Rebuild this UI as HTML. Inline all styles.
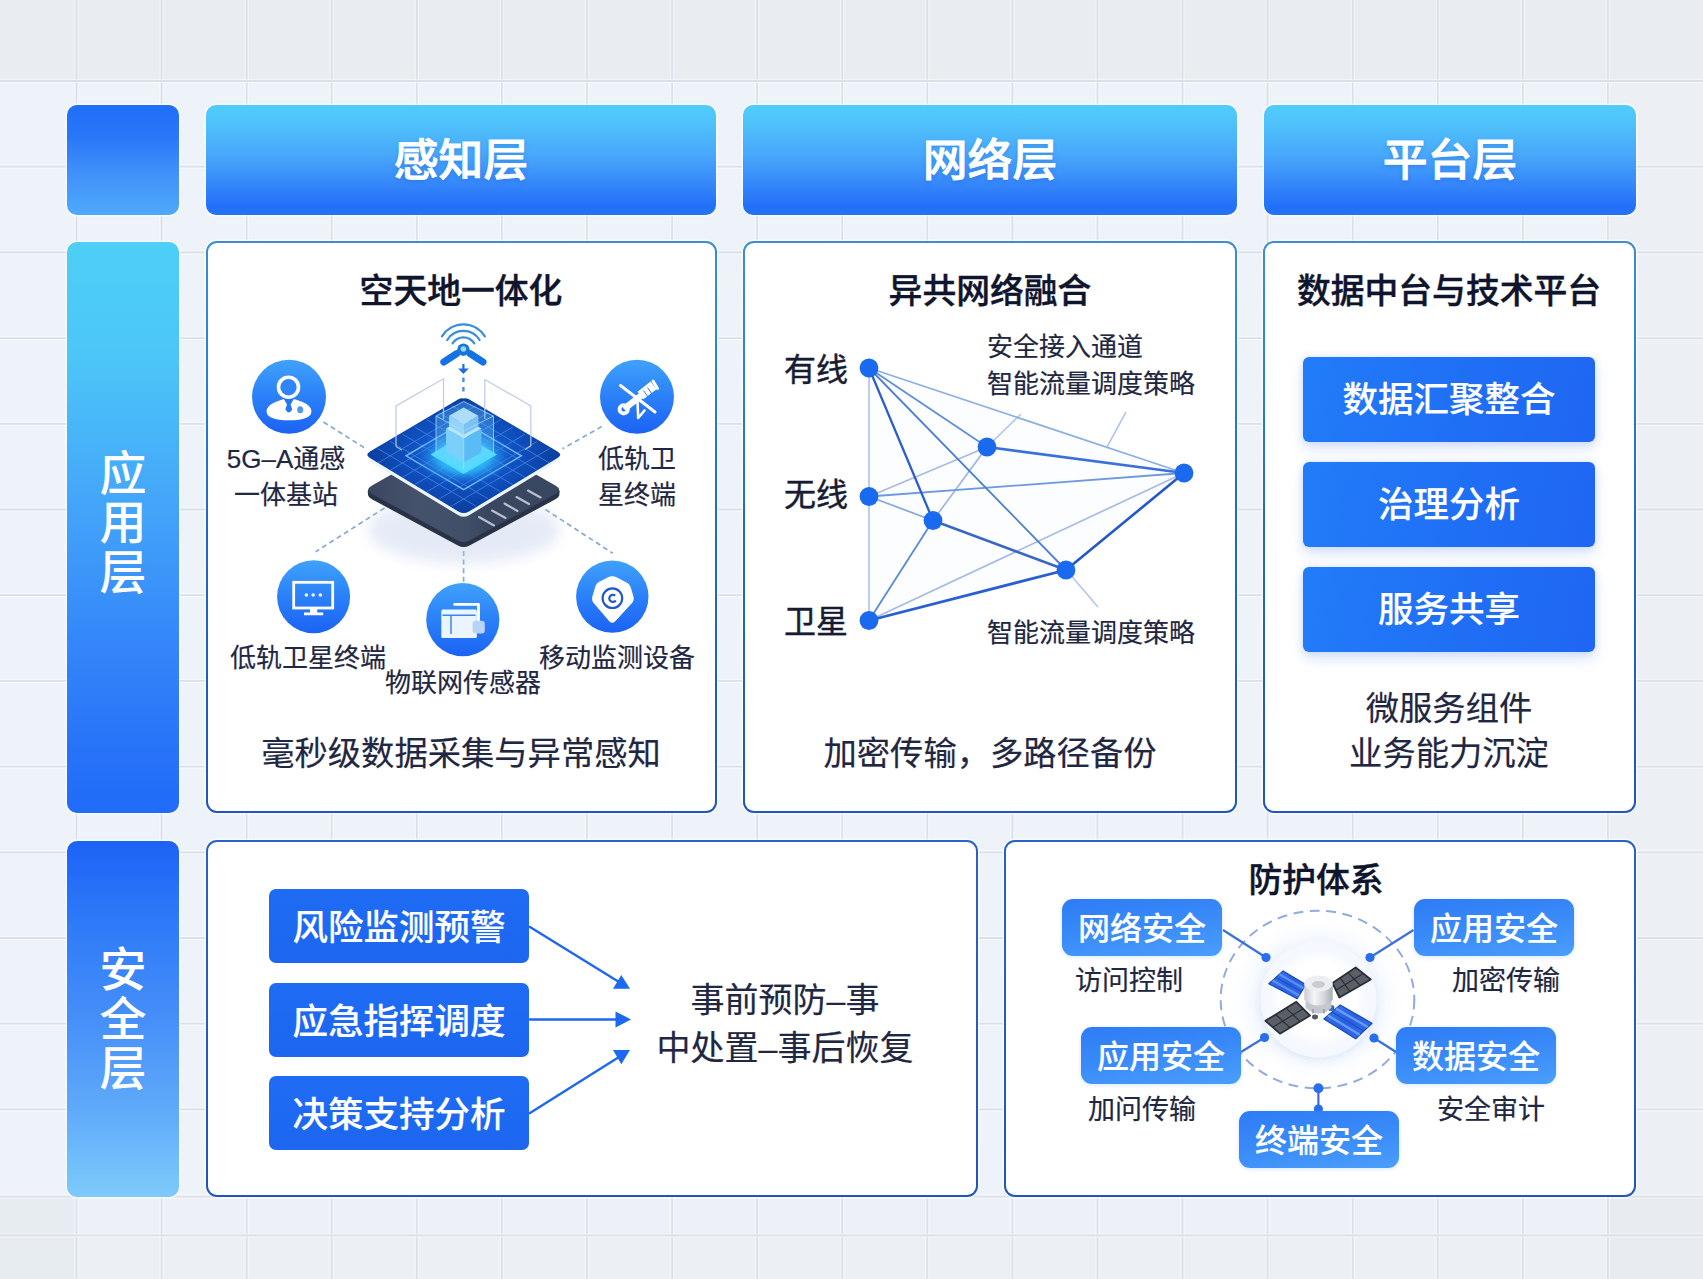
<!DOCTYPE html>
<html lang="zh-CN">
<head>
<meta charset="utf-8">
<title>架构图</title>
<style>
*{box-sizing:border-box;margin:0;padding:0}
html,body{width:1703px;height:1279px;overflow:hidden}
body{font-family:"Liberation Sans","Noto Sans CJK SC",sans-serif;color:#1c2340;background:#edf2f8}
#stage{position:relative;width:1703px;height:1279px;overflow:hidden;background:#eef3fa}
#grid{position:absolute;left:0;top:0;width:1703px;height:1279px}
.abs{position:absolute}
.gw{stroke:#fff;stroke-opacity:.4;stroke-width:4.5;fill:none}
.gg{stroke:#dae0e8;stroke-width:1.8;fill:none}
.hdr{position:absolute;top:105px;height:110px;border-radius:10px;
 background:linear-gradient(180deg,#50cbfb 0%,#4fc4fa 14%,#48a8fa 45%,#3687fa 72%,#2170f8 92%,#2672f2 100%);
 box-shadow:0 0 0 1.5px rgba(255,255,255,.55);
 color:#fff;font-weight:500;-webkit-text-stroke:.8px #fff;font-size:44.8px;line-height:111px;text-align:center;letter-spacing:0px;
 text-shadow:0 2px 4px rgba(20,80,200,.35)}
.side{position:absolute;left:67px;width:112px;border-radius:10px;box-shadow:0 0 0 1.5px rgba(255,255,255,.55);color:#fff}
.side span{position:absolute;left:0;width:112px;text-align:center;font-size:47px;line-height:48px;font-weight:500}
.panel{position:absolute;border-radius:11px;border:2.8px solid transparent;
 background:linear-gradient(#fff,#fff) padding-box,linear-gradient(180deg,#3f8ccf 0%,#2b8ad8 12%,#2068cc 50%,#1f55c0 100%) border-box;
 box-shadow:0 0 0 1.5px rgba(255,255,255,.6)}
.panel.lo{background:linear-gradient(#fff,#fff) padding-box,linear-gradient(180deg,#2a62c6 0%,#1f55c0 100%) border-box}
.ptitle{position:absolute;font-weight:500;-webkit-text-stroke:.4px #10152e;font-size:33.8px;line-height:40px;text-align:center;color:#10152e;white-space:nowrap}
.ptext{position:absolute;font-weight:400;-webkit-text-stroke:.2px #1f2742;font-size:33.3px;line-height:44px;text-align:center;color:#1f2742;white-space:nowrap}
.lbl{position:absolute;font-size:26px;line-height:34px;-webkit-text-stroke:.2px #1f2742;color:#1f2742;white-space:nowrap;text-align:center}
.btn{position:absolute;border-radius:6px;color:#fff;font-weight:500;-webkit-text-stroke:.15px #fff;text-align:center;white-space:nowrap}
.b3{left:1303px;width:292px;height:85px;line-height:87px;font-size:35.5px;border-radius:6px;
 background:linear-gradient(100deg,#227cf8 0%,#1f6ff5 55%,#1f66f2 100%);box-shadow:0 7px 14px rgba(80,130,230,.22),0 0 7px rgba(110,160,240,.22)}
.b4{left:269px;width:260px;height:74px;line-height:79px;font-size:35.5px;border-radius:7px;
 background:linear-gradient(180deg,#1f6cf4 0%,#1c66f0 100%)}
.nlbl{position:absolute;font-size:32px;line-height:40px;font-weight:400;-webkit-text-stroke:.45px #171c33;color:#171c33;white-space:nowrap}
.b5{width:160px;height:57px;line-height:60px;font-size:32px;border-radius:11px;
 background:linear-gradient(172deg,#2d7cf6 0%,#3a8bf8 50%,#4a9efa 100%);box-shadow:0 1px 4px rgba(90,150,240,.25)}
.l5{width:200px;font-size:27px;line-height:34px}
</style>
</head>
<body>
<div id="stage">
<svg id="grid" viewBox="0 0 1703 1279">
 <g id="gl">
<rect x="0" y="0" width="1703" height="1279" fill="#eef3fa"/>
<rect x="0" y="0" width="1703" height="81" fill="#e9edf1"/>
<rect x="1608" y="81" width="95" height="1116" fill="#ecf0f5"/>
<rect x="0" y="1197" width="1703" height="38.500" fill="#edf1f7"/>
<rect x="0" y="1235.500" width="1703" height="44" fill="#ecf0f4"/>
<rect x="1608" y="1197" width="95" height="82" fill="#e8ecf0"/>
<rect x="0" y="1197" width="76.500" height="82" fill="#e7ecf1"/>
<path d="M76.5 0L76.5 1279" class="gw"/>
<path d="M76.5 0L76.5 1279" class="gg"/>
<path d="M161.6 0L161.6 1279" class="gw"/>
<path d="M161.6 0L161.6 1279" class="gg"/>
<path d="M246.7 0L246.7 1279" class="gw"/>
<path d="M246.7 0L246.7 1279" class="gg"/>
<path d="M331.7 0L331.7 1279" class="gw"/>
<path d="M331.7 0L331.7 1279" class="gg"/>
<path d="M416.8 0L416.8 1279" class="gw"/>
<path d="M416.8 0L416.8 1279" class="gg"/>
<path d="M501.9 0L501.9 1279" class="gw"/>
<path d="M501.9 0L501.9 1279" class="gg"/>
<path d="M587.0 0L587.0 1279" class="gw"/>
<path d="M587.0 0L587.0 1279" class="gg"/>
<path d="M672.1 0L672.1 1279" class="gw"/>
<path d="M672.1 0L672.1 1279" class="gg"/>
<path d="M757.1 0L757.1 1279" class="gw"/>
<path d="M757.1 0L757.1 1279" class="gg"/>
<path d="M842.2 0L842.2 1279" class="gw"/>
<path d="M842.2 0L842.2 1279" class="gg"/>
<path d="M927.3 0L927.3 1279" class="gw"/>
<path d="M927.3 0L927.3 1279" class="gg"/>
<path d="M1012.4 0L1012.4 1279" class="gw"/>
<path d="M1012.4 0L1012.4 1279" class="gg"/>
<path d="M1097.5 0L1097.5 1279" class="gw"/>
<path d="M1097.5 0L1097.5 1279" class="gg"/>
<path d="M1182.5 0L1182.5 1279" class="gw"/>
<path d="M1182.5 0L1182.5 1279" class="gg"/>
<path d="M1267.6 0L1267.6 1279" class="gw"/>
<path d="M1267.6 0L1267.6 1279" class="gg"/>
<path d="M1352.7 0L1352.7 1279" class="gw"/>
<path d="M1352.7 0L1352.7 1279" class="gg"/>
<path d="M1437.8 0L1437.8 1279" class="gw"/>
<path d="M1437.8 0L1437.8 1279" class="gg"/>
<path d="M1522.9 0L1522.9 1279" class="gw"/>
<path d="M1522.9 0L1522.9 1279" class="gg"/>
<path d="M1607.9 0L1607.9 1279" class="gw"/>
<path d="M1607.9 0L1607.9 1279" class="gg"/>
<path d="M0 81L1703 81" class="gw"/>
<path d="M0 81L1703 81" class="gg"/>
<path d="M0 166.7L1703 166.7" class="gw"/>
<path d="M0 166.7L1703 166.7" class="gg"/>
<path d="M0 252.4L1703 252.4" class="gw"/>
<path d="M0 252.4L1703 252.4" class="gg"/>
<path d="M0 338.1L1703 338.1" class="gw"/>
<path d="M0 338.1L1703 338.1" class="gg"/>
<path d="M0 423.8L1703 423.8" class="gw"/>
<path d="M0 423.8L1703 423.8" class="gg"/>
<path d="M0 509.5L1703 509.5" class="gw"/>
<path d="M0 509.5L1703 509.5" class="gg"/>
<path d="M0 595.2L1703 595.2" class="gw"/>
<path d="M0 595.2L1703 595.2" class="gg"/>
<path d="M0 680.9L1703 680.9" class="gw"/>
<path d="M0 680.9L1703 680.9" class="gg"/>
<path d="M0 766.6L1703 766.6" class="gw"/>
<path d="M0 766.6L1703 766.6" class="gg"/>
<path d="M0 852.3L1703 852.3" class="gw"/>
<path d="M0 852.3L1703 852.3" class="gg"/>
<path d="M0 938L1703 938" class="gw"/>
<path d="M0 938L1703 938" class="gg"/>
<path d="M0 1023.7L1703 1023.7" class="gw"/>
<path d="M0 1023.7L1703 1023.7" class="gg"/>
<path d="M0 1109.4L1703 1109.4" class="gw"/>
<path d="M0 1109.4L1703 1109.4" class="gg"/>
<path d="M0 1196.6L1703 1196.6" class="gw"/>
<path d="M0 1196.6L1703 1196.6" class="gg"/>
<path d="M0 1235.4L1703 1235.4" class="gw"/>
<path d="M0 1235.4L1703 1235.4" class="gg"/>
</g>
</svg>

<!-- header row -->
<div class="side" style="top:105px;height:110px;background:linear-gradient(180deg,#1f6ef8 0%,#2a78f9 30%,#3f90fa 60%,#4fa9fa 100%)"></div>
<div class="hdr" style="left:206px;width:510px">感知层</div>
<div class="hdr" style="left:743px;width:494px">网络层</div>
<div class="hdr" style="left:1264px;width:372px">平台层</div>

<!-- side columns -->
<div class="side" style="top:242px;height:571px;background:linear-gradient(180deg,#4dcff6 0%,#4cc6f8 20%,#44a6f9 45%,#3689f9 68%,#2874f8 88%,#206bf8 100%)">
 <span style="top:208px">应</span><span style="top:257px">用</span><span style="top:307px">层</span>
</div>
<div class="side" style="top:841px;height:356px;background:linear-gradient(180deg,#1d62f6 0%,#2d7af8 22%,#468ff9 50%,#5fa9fa 75%,#7ccbfb 100%)">
 <span style="top:105px">安</span><span style="top:155px">全</span><span style="top:204px">层</span>
</div>

<!-- panels -->
<div class="panel" id="p1" style="left:206px;top:241px;width:511px;height:572px"></div>
<div class="panel" id="p2" style="left:743px;top:241px;width:494px;height:572px"></div>
<div class="panel" id="p3" style="left:1263px;top:241px;width:373px;height:572px"></div>
<div class="panel lo" id="p4" style="left:206px;top:840px;width:772px;height:357px"></div>
<div class="panel lo" id="p5" style="left:1004px;top:840px;width:632px;height:357px"></div>

<!-- titles -->
<div class="ptitle" style="left:261px;top:271px;width:400px">空天地一体化</div>
<div class="ptitle" style="left:790px;top:271px;width:400px">异共网络融合</div>
<div class="ptitle" style="left:1249px;top:271px;width:400px">数据中台与技术平台</div>
<div class="ptitle" style="left:1116px;top:860px;width:400px">防护体系</div>

<!-- bottom texts -->
<div class="ptext" style="left:211px;top:732px;width:500px">毫秒级数据采集与异常感知</div>
<div class="ptext" style="left:740px;top:732px;width:500px">加密传输，多路径备份</div>
<div class="ptext" style="left:1249px;top:687px;width:400px">微服务组件</div>
<div class="ptext" style="left:1249px;top:732px;width:400px">业务能力沉淀</div>

<!--SECTION:P1-->
<svg class="abs" style="left:215px;top:315px" width="495" height="350" viewBox="215 315 495 350">
 <defs>
  <linearGradient id="ic" x1="0" x2="0" y1="0" y2="1"><stop offset="0" stop-color="#3fa2fb"/><stop offset=".5" stop-color="#2b80f8"/><stop offset="1" stop-color="#1b63f4"/></linearGradient>
  <radialGradient id="chip" cx="50%" cy="48%" r="55%"><stop offset="0" stop-color="#1f6ee4"/><stop offset=".5" stop-color="#0f50c0"/><stop offset="1" stop-color="#0a3a98"/></radialGradient>
  <radialGradient id="glow" cx="50%" cy="50%" r="50%"><stop offset="0" stop-color="#5fe0ff"/><stop offset=".55" stop-color="#2bb4f6" stop-opacity=".85"/><stop offset="1" stop-color="#1a6fe0" stop-opacity="0"/></radialGradient>
  <linearGradient id="slabTop" x1="0" x2="1" y1="0" y2="0"><stop offset="0" stop-color="#3b4761"/><stop offset=".25" stop-color="#45526c"/><stop offset=".52" stop-color="#414e68"/><stop offset=".62" stop-color="#394660"/><stop offset="1" stop-color="#3a4761"/></linearGradient>
  <linearGradient id="slabL" x1="0" x2="1" y1="0" y2="0"><stop offset="0" stop-color="#2a354b"/><stop offset="1" stop-color="#36445f"/></linearGradient>
  <linearGradient id="slabR" x1="0" x2="1" y1="0" y2="0"><stop offset="0" stop-color="#3c4b66"/><stop offset="1" stop-color="#46556f"/></linearGradient>
  <linearGradient id="cubeF" x1="0" x2="0" y1="0" y2="1"><stop offset="0" stop-color="#a9dcfb"/><stop offset="1" stop-color="#56c4f8"/></linearGradient>
  <filter id="b6" x="-30%" y="-30%" width="160%" height="160%"><feGaussianBlur stdDeviation="7"/></filter>
  <filter id="b2" x="-30%" y="-30%" width="160%" height="160%"><feGaussianBlur stdDeviation="2.2"/></filter>
  <clipPath id="chipclip"><path d="M463.7 398.5Q466 397.5 469 399.2L557.5 451.5Q563 454.8 557.5 458L469 511.5Q463.7 514.5 458.4 511.5L370 458Q364.5 454.8 370 451.5L458.4 399.2Q461.4 397.5 463.7 398.5Z"/></clipPath>
 </defs>
 <!-- dashed connectors -->
 <g stroke="#86a9d8" stroke-width="1.7" stroke-dasharray="5 3.6" fill="none">
  <path d="M323.5 422L366 448.8M601.8 426.6L562.5 448.8M384.5 508L315.7 551.7M545.5 509.5L612.8 553.3M463.6 551L463.6 582"/>
 </g>
 <!-- soft shadow -->
 <ellipse cx="464" cy="530" rx="96" ry="34" fill="#bccbe8" opacity=".38" filter="url(#b6)"/>
 <!-- bottom slab -->
 <path d="M368 493Q366.500 490 372 487L463.700 435L555.400 487Q560.800 490 559.400 493L559.400 494.500Q559.400 497 555 499.500L469.500 545.500Q463.700 548.600 457.900 545.500L372.400 499.500Q368 497 368 494.500Z" fill="#293246"/>
 <path d="M368.600 490.500Q367.500 488 372 485.400L463.700 433.500L555.400 485.400Q559.900 488 558.800 490.500Q558.500 492 555 494.200L469.500 540.500Q463.700 543.600 457.900 540.500L372.400 494.200Q369 492 368.600 490.500Z" fill="url(#slabTop)"/>
 <g stroke="#c5ccda" stroke-width="2.1" stroke-linecap="round" opacity=".9">
  <path d="M479 517L494 525.5M492 510.5L505.5 518M504.5 503.5L517.5 511M516.5 497L529 504M528 490.5L540.5 497.5"/>
 </g>
 <!-- white rim under chip -->
 <path d="M463.7 402.300Q466 401.300 469 403L557.5 455.300Q563 458.600 557.5 461.800L469 515.300Q463.7 518.300 458.4 515.300L370 461.800Q364.5 458.600 370 455.300L458.4 403Q461.4 401.300 463.7 402.300Z" fill="#eef4fc"/>
 <!-- chip -->
 <path d="M463.7 398.5Q466 397.5 469 399.2L557.5 451.5Q563 454.8 557.5 458L469 511.5Q463.7 514.5 458.4 511.5L370 458Q364.5 454.8 370 451.5L458.4 399.2Q461.4 397.5 463.7 398.5Z" fill="url(#chip)"/>
 <g clip-path="url(#chipclip)">
  <g stroke="#5aa2f2" stroke-width="1" opacity=".55" fill="none">
   <path d="M475.9 405.5L377.9 463.0M488.2 412.7L390.2 470.2M500.4 419.9L402.4 477.4M512.7 427.1L414.7 484.6M525.0 434.2L427.0 491.7M537.2 441.4L439.2 498.9M549.5 448.6L451.5 506.1"/>
   <path d="M451.4 405.5L549.5 463.0M439.2 412.7L537.2 470.2M426.9 419.9L525.0 477.4M414.7 427.1L512.7 484.6M402.4 434.2L500.4 491.7M390.2 441.4L488.2 498.9M377.9 448.6L475.9 506.1"/>
  </g>
  <path d="M463.7 422.0L521.3 455.8L463.7 489.6L406.1 455.8Z" fill="none" stroke="#86c9ff" stroke-width="1.5" opacity=".85"/>
  <ellipse cx="463.7" cy="457" rx="48" ry="28" fill="url(#glow)"/>
 </g>
 <!-- big outline box -->
 <g stroke="#b9c8e6" stroke-width="1.3" fill="none" opacity=".9">
  <path d="M396 446.500L396 406L443.500 378.800L443.500 419M530.800 446L530.800 406L484.800 379.500L484.800 419"/>
  <path d="M396 446.500L402 450M530.800 446L525 449.500"/>
 </g>
 <!-- tower -->
 <path d="M463.7 474L497 454.500L463.7 435L430.400 454.500Z" fill="#55dcff" opacity=".95"/>
 <path d="M446 428.500L446 452.500L463.7 462.500L463.7 438.500Z" fill="#7fd0fa"/>
 <path d="M481.400 428.500L481.400 452.500L463.7 462.500L463.7 438.500Z" fill="#4fb4f4"/>
 <path d="M446 428.500L463.7 418.500L481.400 428.500L463.7 438.500Z" fill="#d7efff"/>
 <path d="M449 415.800L449 426.500L463.7 434.800L463.7 424Z" fill="#a7d4f6"/>
 <path d="M478.400 415.800L478.400 426.500L463.7 434.800L463.7 424Z" fill="#7fbcee"/>
 <path d="M449 415.800L463.7 407.500L478.400 415.800L463.7 424Z" fill="#c9e2f8"/>
 <!-- glass box -->
 <path d="M436 453L436 416L463.7 401.500L493.500 416L493.500 453L463.7 469Z" fill="#6fd0ff" opacity=".3"/>
 <path d="M436 453L436 416L463.7 401.500L493.500 416L493.500 453M436 416L463.7 431L493.500 416M463.7 431L463.7 469" fill="none" stroke="#a9e2ff" stroke-width="1" opacity=".75"/>
 <!-- satellite top icon -->
 <g>
  <g fill="none" stroke="#3a8edc" stroke-width="2.2" stroke-linecap="round">
   <path d="M452.500 343.400A12.800 12.800 0 0 1 474.300 343.400"/>
   <path d="M447.200 340A19 19 0 0 1 479.600 340"/>
   <path d="M441.900 336.300A25.300 25.300 0 0 1 484.900 336.300"/>
  </g>
  <path d="M456.500 353.800L443.800 362M470.300 353.800L483 362" stroke="#1373e6" stroke-width="7" stroke-linecap="round"/>
  <circle cx="463.400" cy="349.700" r="6.200" fill="#1578d6"/>
  <circle cx="463.400" cy="349" r="2.800" fill="#9bd6f6"/>
  <path d="M463.400 364L463.400 369" stroke="#1f6ed8" stroke-width="2.200"/>
  <path d="M458 368.400L468.800 368.400L463.400 374Z" fill="#1f6ed8"/>
  <path d="M463.400 377.500L463.400 394" stroke="#4f8edc" stroke-width="2.400" stroke-dasharray="4.500 5"/>
 </g>
 <!-- icon circles -->
 <circle cx="289" cy="396.800" r="37" fill="url(#ic)"/>
 <circle cx="637" cy="396.800" r="37" fill="url(#ic)"/>
 <circle cx="313.600" cy="596.800" r="36.500" fill="url(#ic)"/>
 <circle cx="462.800" cy="619.600" r="36.600" fill="url(#ic)"/>
 <circle cx="612.300" cy="596.600" r="36.200" fill="url(#ic)"/>
 <!-- person -->
 <g>
  <path d="M266.600 411.500Q266.600 405.500 276 401.800L283 399.200L294.800 399.200L302 401.800Q311.400 405.500 311.400 411.500Q311.400 420.300 289 420.300Q266.600 420.300 266.600 411.500Z" fill="#fff"/>
  <path d="M283.600 398.600L294 398.600L290.600 404.600L292.200 409.600Q288.800 415.200 285.400 409.600L287 404.600Z" fill="#2377f7"/>
  <circle cx="288.500" cy="387.200" r="10" fill="#2f86f8" stroke="#fff" stroke-width="3.600"/>
  <ellipse cx="300.200" cy="409.800" rx="3" ry="3.500" fill="#4f95f8"/>
 </g>
 <!-- telescope -->
 <g stroke="#fff" fill="none" stroke-linecap="round">
  <path d="M620.500 385.500L655 412" stroke-width="3"/>
  <path d="M637.500 401L638.200 418L644.500 410.500" stroke-width="2.600" stroke-linejoin="round"/>
  <path d="M626.500 407L640 396.500" stroke-width="6.600"/>
  <path d="M640.500 395.500L653.500 385.400" stroke-width="9.600" stroke-linecap="butt"/>
  <path d="M653 381L657.500 388.500" stroke-width="3"/>
  <circle cx="623.700" cy="409.300" r="4.200" stroke-width="3.800"/>
 </g>
 <path d="M643.500 390.500L648 397M647.500 387.500L652 394" stroke="#2b7df7" stroke-width="1"/>
 <!-- monitor -->
 <g>
  <rect x="293.700" y="582.300" width="39" height="25.700" fill="none" stroke="#fff" stroke-width="2.800"/>
  <path d="M310 609L317.200 609L317.200 612.400L323.200 612.400L323.200 615.300L304 615.300L304 612.400L310 612.400Z" fill="#fff"/>
  <circle cx="306.400" cy="595" r="1.800" fill="#e8f3ff"/><circle cx="313.200" cy="595" r="1.800" fill="#e8f3ff"/><circle cx="320.400" cy="595" r="1.800" fill="#e8f3ff"/>
 </g>
 <!-- window -->
 <g>
  <path d="M454.600 604.400L478.500 604.400L478.500 621" fill="none" stroke="#fff" stroke-width="2.800" stroke-linecap="round" stroke-linejoin="round"/>
  <rect x="441.300" y="609.500" width="35.600" height="28.500" rx="1.500" fill="#eaf5ff"/>
  <path d="M442.500 615.200L475.500 615.200M451 616L451 634" stroke="#3b86f0" stroke-width="1.500" fill="none"/>
  <rect x="472.600" y="620.800" width="12.200" height="12.600" rx="3" fill="#b7d3f8"/>
 </g>
 <!-- pin -->
 <g>
  <path d="M612 576.300Q614 576 617 577.500L627.500 583Q630 584.500 630.800 587.500L633.600 597Q634.200 600 632.500 602.500L615 621.500Q612.300 624 609.500 621.500L593.200 602.500Q591.500 600 592.200 597L595.500 586Q596.300 583.500 598.800 582L607.500 577.500Q610 576.300 612 576.300Z" fill="#fff"/>
  <circle cx="612.400" cy="598.200" r="9.800" fill="none" stroke="#1f58cc" stroke-width="2.200"/>
  <path d="M615.200 595.600A3.600 3.600 0 1 0 615.800 600.500" fill="none" stroke="#1f58cc" stroke-width="2.200"/>
 </g>
</svg>
<div class="lbl" style="left:186px;top:442px;width:200px">5G–A通感</div>
<div class="lbl" style="left:186px;top:478px;width:200px">一体基站</div>
<div class="lbl" style="left:537px;top:442px;width:200px">低轨卫</div>
<div class="lbl" style="left:537px;top:478px;width:200px">星终端</div>
<div class="lbl" style="left:208px;top:641px;width:200px">低轨卫星终端</div>
<div class="lbl" style="left:363px;top:666px;width:200px">物联网传感器</div>
<div class="lbl" style="left:517px;top:641px;width:200px">移动监测设备</div>
<!--SECTION:P2-->
<svg class="abs" style="left:850px;top:340px" width="360" height="300" viewBox="850 340 360 300">
<polygon points="869,368 1184,473 1066,570 869,620.5" fill="#eaf3fe" fill-opacity=".2"/>
<path d="M1021 414L990 444M1126 412L1107 447M1068 572L1098 607" stroke="#b4c6ea" stroke-width="1.6" fill="none"/>
<line x1="869" y1="368" x2="869" y2="620.5" stroke="#a9c2ec" stroke-width="1.6"/>
<line x1="869" y1="368" x2="1184" y2="473" stroke="#8eaee6" stroke-width="1.7"/>
<line x1="869" y1="496.5" x2="987" y2="447" stroke="#a8bbe4" stroke-width="1.7"/>
<line x1="869" y1="620.5" x2="1184" y2="473" stroke="#a8bbe4" stroke-width="1.7"/>
<line x1="933" y1="520.5" x2="987" y2="447" stroke="#9fb5e2" stroke-width="1.7"/>
<line x1="869" y1="496.5" x2="933" y2="520.5" stroke="#8aa8dc" stroke-width="1.8"/>
<line x1="869" y1="496.5" x2="1184" y2="473" stroke="#6f99de" stroke-width="1.8"/>
<line x1="869" y1="368" x2="987" y2="447" stroke="#5f8fdc" stroke-width="1.8"/>
<line x1="869" y1="368" x2="1066" y2="570" stroke="#4d7fd0" stroke-width="1.8"/>
<line x1="869" y1="620.5" x2="933" y2="520.5" stroke="#5a8ad8" stroke-width="1.8"/>
<line x1="869" y1="368" x2="933" y2="520.5" stroke="#2d5fc8" stroke-width="2.3"/>
<line x1="987" y1="447" x2="1184" y2="473" stroke="#3a70da" stroke-width="2.6"/>
<line x1="933" y1="520.5" x2="1066" y2="570" stroke="#3866c8" stroke-width="2.5"/>
<line x1="1066" y1="570" x2="1184" y2="473" stroke="#2458c8" stroke-width="2.6"/>
<line x1="869" y1="620.5" x2="1066" y2="570" stroke="#2a5fd0" stroke-width="2.8"/>
<circle cx="869" cy="368" r="9.4" fill="#1a6af0"/>
<circle cx="869" cy="496.5" r="9.4" fill="#1a6af0"/>
<circle cx="869" cy="620.5" r="9.4" fill="#1a6af0"/>
<circle cx="987" cy="447" r="9.4" fill="#1a6af0"/>
<circle cx="933" cy="520.5" r="9.4" fill="#1a6af0"/>
<circle cx="1066" cy="570" r="9.4" fill="#1a6af0"/>
<circle cx="1184" cy="473" r="9.4" fill="#1a6af0"/>
</svg>
<div class="nlbl" style="left:784px;top:350px">有线</div>
<div class="nlbl" style="left:784px;top:475px">无线</div>
<div class="nlbl" style="left:784px;top:602px">卫星</div>
<div class="lbl" style="left:987px;top:330px;text-align:left">安全接入通道</div>
<div class="lbl" style="left:987px;top:367px;text-align:left">智能流量调度策略</div>
<div class="lbl" style="left:987px;top:616px;text-align:left">智能流量调度策略</div>
<!--SECTION:P3-->
<div class="btn b3" style="top:357px">数据汇聚整合</div>
<div class="btn b3" style="top:462px">治理分析</div>
<div class="btn b3" style="top:567px">服务共享</div>
<!--SECTION:P4-->
<div class="btn b4" style="top:889px">风险监测预警</div>
<div class="btn b4" style="top:983px">应急指挥调度</div>
<div class="btn b4" style="top:1076px">决策支持分析</div>
<svg class="abs" style="left:520px;top:900px" width="130" height="240" viewBox="520 900 130 240">
 <g stroke="#1c68f0" stroke-width="2.400" fill="none" stroke-linecap="round">
  <path d="M530 927L619 982"/>
  <path d="M530 1019.500L617 1019.500"/>
  <path d="M530 1113L619 1057"/>
 </g>
 <g fill="#1c68f0">
  <path d="M621.300 975L630 988.800L613 988.800Z"/>
  <path d="M631 1019.400L615.500 1027.600L615.500 1011.400Z"/>
  <path d="M613 1050L630 1050L621.300 1064.300Z"/>
 </g>
</svg>
<div class="ptext" style="left:585px;top:977.5px;width:400px;font-size:34px">事前预防–事</div>
<div class="ptext" style="left:585px;top:1025.5px;width:400px;font-size:34px">中处置–事后恢复</div>
<!--SECTION:P5-->
<svg class="abs" style="left:1200px;top:890px" width="240" height="230" viewBox="1200 890 240 230">
 <defs>
  <radialGradient id="halo" cx="50%" cy="50%" r="50%">
   <stop offset="0" stop-color="#dfeafc" stop-opacity=".9"/><stop offset=".62" stop-color="#e6effc" stop-opacity=".75"/><stop offset="1" stop-color="#f4f8fe" stop-opacity="0"/>
  </radialGradient>
  <radialGradient id="disc" cx="50%" cy="42%" r="58%">
   <stop offset="0" stop-color="#ffffff"/><stop offset=".8" stop-color="#ffffff"/><stop offset="1" stop-color="#f1f5fc"/>
  </radialGradient>
  <linearGradient id="cyl" x1="0" x2="1" y1="0" y2="0">
   <stop offset="0" stop-color="#c9ccd2"/><stop offset=".35" stop-color="#f4f5f7"/><stop offset=".7" stop-color="#d4d6da"/><stop offset="1" stop-color="#a9adb5"/>
  </linearGradient>
  <linearGradient id="solb" x1="0" x2="1" y1="0" y2="1">
   <stop offset="0" stop-color="#3a7af2"/><stop offset=".5" stop-color="#2660e0"/><stop offset="1" stop-color="#3674ee"/>
  </linearGradient>
  <filter id="sh" x="-30%" y="-30%" width="160%" height="160%"><feGaussianBlur stdDeviation="5"/></filter>
  <filter id="sh2" x="-30%" y="-30%" width="160%" height="160%"><feGaussianBlur stdDeviation="3.5"/></filter>
 </defs>
 <ellipse cx="1317.5" cy="999.5" rx="88" ry="82" fill="url(#halo)"/>
 <ellipse cx="1317.5" cy="999.5" rx="96.8" ry="88.8" fill="none" stroke="#93aae0" stroke-width="2" stroke-dasharray="10 6.5"/>
 <ellipse cx="1318.500" cy="1004" rx="57" ry="55" fill="#c3d1ee" opacity=".45" filter="url(#sh)"/>
 <circle cx="1318.500" cy="999.500" r="58" fill="#f5f8fe"/>
 <circle cx="1318.500" cy="998.500" r="43" fill="#ffffff" filter="url(#sh2)"/>
 <g stroke="#3a6fe0" stroke-width="2.2" fill="none">
  <path d="M1223 930L1266 957.5M1413.5 930L1370 957.5M1241 1052L1264.5 1037.5M1396 1052L1374 1038M1318.4 1088L1318.4 1110"/>
 </g>
 <g fill="#2a6ef0">
  <circle cx="1266" cy="957.5" r="4.6"/><circle cx="1370" cy="957.5" r="4.6"/>
  <circle cx="1264.5" cy="1037.5" r="4.6"/><circle cx="1374" cy="1038" r="4.6"/>
  <circle cx="1318.4" cy="1088.2" r="5"/><circle cx="1318.4" cy="1109" r="4.6"/>
 </g>
 <!-- satellite -->
 <g>
  <!-- dark panels -->
  <path d="M1332.5 983L1355.7 967.4L1370.8 979.5L1339.4 997.5Z" fill="#5b6068" stroke="#2a2e36" stroke-width="1.8" stroke-linejoin="round"/>
  <path d="M1349.9 991.5L1340.2 977.8M1360.3 985.5L1348.0 972.6M1336.0 990.2L1363.2 973.5" stroke="#2a2e36" stroke-width="1.2" fill="none"/>
  <path d="M1265.4 1020.8L1296.3 1001.8L1310.1 1015.6L1280 1033.7Z" fill="#5b6068" stroke="#2a2e36" stroke-width="1.8" stroke-linejoin="round"/>
  <path d="M1275.7 1014.5L1290.0 1027.7M1286.0 1008.1L1300.1 1021.6M1272.7 1027.2L1303.2 1008.7" stroke="#2a2e36" stroke-width="1.2" fill="none"/>
  <!-- blue panels -->
  <path d="M1268.8 983.8L1283.1 970.9L1305.8 984.6L1297.2 998.7Z" fill="url(#solb)" stroke="#1a48b4" stroke-width="1.2" stroke-linejoin="round"/>
  <path d="M1279.500 974.200L1303.600 988.200M1272.500 980.500L1299.200 995.500" stroke="#6f9ef6" stroke-width="2.200" opacity=".75"/><path d="M1276 977.400L1301.500 991.700" stroke="#1d4fc4" stroke-width="1.300"/>
  <path d="M1323.9 1019L1340.2 1004.9L1372 1023.3L1355.7 1038.8Z" fill="url(#solb)" stroke="#1a48b4" stroke-width="1.2" stroke-linejoin="round"/>
  <path d="M1336 1008.600L1367.800 1027M1328 1015.500L1359.700 1034.800" stroke="#79a6f7" stroke-width="2.400" opacity=".8"/>
  <path d="M1332 1012L1363.800 1031" stroke="#1d4fc4" stroke-width="1.400"/>
  <!-- body -->
  <ellipse cx="1315" cy="1017" rx="3" ry="2.4" fill="#555a62"/>
  <ellipse cx="1331" cy="1008" rx="3.5" ry="3" fill="#3c63b8"/>
  <path d="M1305.5 1000L1305.5 1008Q1318.5 1019 1331.5 1008L1331.5 1000Z" fill="#c4c7cd"/>
  <path d="M1313 1009L1313 1013.5M1324 1009L1324 1013.5" stroke="#8d9199" stroke-width="1.3"/>
  <path d="M1304.3 983.5L1304.3 1000Q1318.5 1011 1332.7 1000L1332.7 983.5Z" fill="url(#cyl)"/>
  <ellipse cx="1318.5" cy="983.5" rx="14.2" ry="8" fill="#eceef1"/>
  <ellipse cx="1318.5" cy="984.5" rx="6.5" ry="3.4" fill="#c9ccd2"/>
 </g>
</svg>
<div class="btn b5" style="left:1062px;top:899px">网络安全</div>
<div class="btn b5" style="left:1414px;top:899px">应用安全</div>
<div class="btn b5" style="left:1081px;top:1027px">应用安全</div>
<div class="btn b5" style="left:1396px;top:1027px">数据安全</div>
<div class="btn b5" style="left:1239px;top:1111px">终端安全</div>
<div class="lbl l5" style="left:1029px;top:964px">访问控制</div>
<div class="lbl l5" style="left:1406px;top:964px">加密传输</div>
<div class="lbl l5" style="left:1042px;top:1093px">加问传输</div>
<div class="lbl l5" style="left:1391px;top:1093px">安全审计</div>
</div>
</body>
</html>
